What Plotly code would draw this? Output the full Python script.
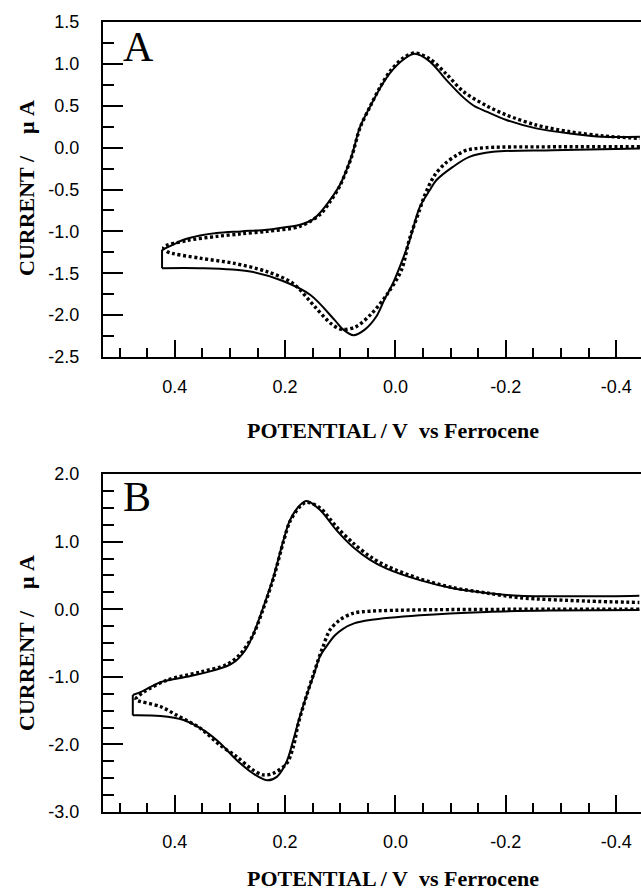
import plotly.graph_objects as go

# ---------------- data ----------------
# Panel A : simulated (solid) upper branch, left -> right
A_sim_up_v = [0.423, 0.400, 0.384, 0.354, 0.324, 0.280, 0.233, 0.200, 0.173, 0.150, 0.137, 0.119,
              0.101, 0.080, 0.064, 0.046, 0.028, 0.010, -0.014, -0.035, -0.062, -0.092, -0.123,
              -0.142, -0.165, -0.201, -0.255, -0.316, -0.376, -0.443]
A_sim_up_i = [-1.22, -1.15, -1.10, -1.05, -1.02, -1.00, -0.98, -0.95, -0.92, -0.86, -0.78, -0.63,
              -0.45, -0.11, 0.25, 0.49, 0.71, 0.89, 1.05, 1.12, 1.03, 0.81, 0.60,
              0.50, 0.43, 0.33, 0.23, 0.17, 0.13, 0.13]
# Panel A : simulated lower branch, right -> left
A_sim_lo_v = [-0.443, -0.285, -0.177, -0.134, -0.104, -0.074, -0.062, -0.044, -0.026, -0.008,
              0.006, 0.019, 0.035, 0.055, 0.076, 0.095, 0.110, 0.154, 0.205, 0.263, 0.354, 0.423]
A_sim_lo_i = [-0.01, -0.03, -0.05, -0.11, -0.23, -0.39, -0.51, -0.71, -1.10, -1.42,
              -1.64, -1.80, -2.02, -2.17, -2.24, -2.17, -2.06, -1.76, -1.59, -1.48, -1.44, -1.44]
# Panel A : experimental (dots) lower branch right -> left, then upper branch left -> right
A_exp_lo_v = [-0.443, -0.300, -0.165, -0.129, -0.111, -0.090, -0.071, -0.053, -0.044, -0.025,
              -0.011, 0.014, 0.043, 0.072, 0.098, 0.117, 0.146, 0.186, 0.233, 0.294, 0.354, 0.414]
A_exp_lo_i = [0.01, 0.01, 0.00, -0.03, -0.09, -0.19, -0.33, -0.57, -0.74, -1.10,
              -1.46, -1.74, -1.98, -2.14, -2.17, -2.10, -1.90, -1.62, -1.48, -1.38, -1.32, -1.24]
A_exp_up_v = [0.420, 0.378, 0.324, 0.280, 0.233, 0.173, 0.137, 0.119, 0.101, 0.080, 0.064, 0.046,
              0.028, 0.010, -0.014, -0.035, -0.062, -0.092, -0.123, -0.165, -0.201, -0.255,
              -0.316, -0.376, -0.443]
A_exp_up_i = [-1.19, -1.11, -1.06, -1.03, -1.00, -0.94, -0.80, -0.65, -0.46, -0.12, 0.24, 0.49,
              0.72, 0.91, 1.07, 1.13, 1.06, 0.88, 0.67, 0.50, 0.39, 0.27,
              0.19, 0.14, 0.11]

# Panel B : simulated upper branch, left -> right
B_sim_up_v = [0.476, 0.460, 0.426, 0.378, 0.336, 0.305, 0.290, 0.278, 0.268, 0.258, 0.239, 0.221,
              0.203, 0.191, 0.173, 0.161, 0.137, 0.107, 0.077, 0.046, 0.016, -0.044, -0.104,
              -0.165, -0.225, -0.346, -0.442]
B_sim_up_i = [-1.27, -1.22, -1.08, -1.00, -0.92, -0.84, -0.77, -0.67, -0.55, -0.38, 0.04, 0.48,
              1.02, 1.32, 1.54, 1.60, 1.47, 1.17, 0.92, 0.73, 0.60, 0.43, 0.31,
              0.24, 0.20, 0.19, 0.20]
# Panel B : simulated lower branch, right -> left
B_sim_lo_v = [-0.442, -0.285, -0.165, -0.044, 0.046, 0.075, 0.095, 0.110, 0.125, 0.137, 0.148,
              0.160, 0.173, 0.185, 0.197, 0.215, 0.233, 0.258, 0.288, 0.318, 0.348, 0.384, 0.426,
              0.476]
B_sim_lo_i = [-0.01, -0.02, -0.04, -0.09, -0.16, -0.21, -0.29, -0.39, -0.55, -0.70, -0.97,
              -1.25, -1.58, -1.93, -2.25, -2.48, -2.53, -2.43, -2.23, -1.98, -1.79, -1.64, -1.58,
              -1.57]
# Panel B : experimental lower branch right -> left, then upper left -> right
B_exp_lo_v = [-0.442, -0.285, -0.044, 0.046, 0.077, 0.101, 0.119, 0.131, 0.137, 0.148, 0.160,
              0.176, 0.185, 0.197, 0.222, 0.240, 0.258, 0.288, 0.318, 0.354, 0.396, 0.426, 0.470]
B_exp_lo_i = [0.00, 0.00, -0.01, -0.03, -0.06, -0.16, -0.31, -0.55, -0.68, -0.95, -1.25,
              -1.69, -2.03, -2.28, -2.43, -2.45, -2.38, -2.18, -2.01, -1.76, -1.57, -1.44, -1.34]
B_exp_up_v = [0.470, 0.455, 0.414, 0.354, 0.306, 0.282, 0.258, 0.239, 0.221, 0.203, 0.191, 0.173,
              0.161, 0.137, 0.107, 0.077, 0.046, 0.016, -0.044, -0.104, -0.165, -0.225, -0.346,
              -0.442]
B_exp_up_i = [-1.32, -1.22, -1.05, -0.93, -0.82, -0.67, -0.38, 0.02, 0.46, 1.00, 1.30, 1.52,
              1.58, 1.50, 1.22, 0.98, 0.78, 0.64, 0.45, 0.32, 0.24, 0.17, 0.12,
              0.10]

# ticks
X_TICKS = [0.4, 0.2, 0.0, -0.2, -0.4]
X_TICK_TEXT = ["0.4", "0.2", "0.0", "-0.2", "-0.4"]
X_MINOR = [0.50, 0.45, 0.35, 0.30, 0.25, 0.15, 0.10, 0.05, -0.05, -0.10, -0.15,
           -0.25, -0.30, -0.35]
A_Y_TICKS = [1.5, 1.0, 0.5, 0.0, -0.5, -1.0, -1.5, -2.0, -2.5]
A_Y_TICK_TEXT = ["1.5", "1.0", "0.5", "0.0", "-0.5", "-1.0", "-1.5", "-2.0", "-2.5"]
A_Y_MINOR = [1.25, 0.75, 0.25, -0.25, -0.75, -1.25, -1.75, -2.25]
B_Y_TICKS = [2.0, 1.0, 0.0, -1.0, -2.0, -3.0]
B_Y_TICK_TEXT = ["2.0", "1.0", "0.0", "-1.0", "-2.0", "-3.0"]
B_Y_MINOR = [1.75, 1.5, 1.25, 0.75, 0.5, 0.25, -0.25, -0.5, -0.75, -1.25, -1.5, -1.75,
             -2.25, -2.5, -2.75]

X_TITLE = "<b>POTENTIAL / V\u00a0\u00a0vs Ferrocene</b>"
Y_TITLE = "<b>CURRENT /\u00a0\u00a0\u00a0\u00a0μ A</b>"

# ---------------- layout geometry ----------------
W, H = 641, 890
ML, MR, MT, MB = 103, 0, 22, 78
PW = W - ML - MR
PH = H - MT - MB


def px_x(px):
    return (px - ML) / PW


def px_y(py):
    return (H - MB - py) / PH


TOP_DOM = [px_y(357), 1.0]
BOT_DOM = [0.0, px_y(474)]

fig = go.Figure()

SOLID = dict(color="black", width=2, shape="spline", smoothing=0.9)
DOTS = dict(color="black", width=3.4, dash="3px,2.6px", shape="spline", smoothing=0.9)


def add_panel(xa, ya, su_v, su_i, sl_v, sl_i, el_v, el_i, eu_v, eu_i):
    fig.add_trace(go.Scatter(x=sl_v, y=sl_i, xaxis=xa, yaxis=ya, mode="lines",
                             line=SOLID, showlegend=False))
    fig.add_trace(go.Scatter(x=[sl_v[-1], su_v[0]], y=[sl_i[-1], su_i[0]], xaxis=xa, yaxis=ya,
                             mode="lines", line=dict(color="black", width=2), showlegend=False))
    fig.add_trace(go.Scatter(x=su_v, y=su_i, xaxis=xa, yaxis=ya, mode="lines",
                             line=SOLID, showlegend=False))
    fig.add_trace(go.Scatter(x=el_v + eu_v, y=el_i + eu_i, xaxis=xa, yaxis=ya, mode="lines",
                             line=DOTS, showlegend=False))


add_panel("x", "y", A_sim_up_v, A_sim_up_i, A_sim_lo_v, A_sim_lo_i,
          A_exp_lo_v, A_exp_lo_i, A_exp_up_v, A_exp_up_i)
add_panel("x2", "y2", B_sim_up_v, B_sim_up_i, B_sim_lo_v, B_sim_lo_i,
          B_exp_lo_v, B_exp_lo_i, B_exp_up_v, B_exp_up_i)

TICKFONT = dict(family="Liberation Sans, Arial, sans-serif", size=18, color="black")


def xaxis_cfg(anchor):
    return dict(anchor=anchor, domain=[0, 1], range=[0.53, -0.445],
                tickmode="array", tickvals=X_TICKS, ticktext=X_TICK_TEXT,
                ticks="inside", ticklen=17, tickwidth=2, tickcolor="black",
                minor=dict(tickmode="array", tickvals=X_MINOR, ticks="inside", ticklen=9,
                           tickwidth=2, tickcolor="black"),
                showline=True, linewidth=2, linecolor="black", mirror=True,
                showgrid=False, zeroline=False, tickfont=TICKFONT, ticklabelstandoff=12)


def yaxis_cfg(anchor, dom, rng, tv, tt, mv):
    return dict(anchor=anchor, domain=dom, range=rng,
                tickmode="array", tickvals=tv, ticktext=tt,
                ticks="inside", ticklen=20, tickwidth=2, tickcolor="black",
                minor=dict(tickmode="array", tickvals=mv, ticks="inside", ticklen=11,
                           tickwidth=2, tickcolor="black"),
                showline=True, linewidth=2, linecolor="black", mirror=False,
                showgrid=False, zeroline=False, tickfont=TICKFONT, ticklabelstandoff=18)


TITLEFONT = dict(family="Liberation Serif, Times New Roman, serif", size=22, color="black")
LETTERFONT = dict(family="Liberation Serif, Times New Roman, serif", size=42, color="black")

annotations = [
    dict(text="A", x=px_x(121), y=px_y(22), xref="paper", yref="paper",
         xanchor="left", yanchor="top", showarrow=False, font=LETTERFONT),
    dict(text="B", x=px_x(121), y=px_y(472), xref="paper", yref="paper",
         xanchor="left", yanchor="top", showarrow=False, font=LETTERFONT),
    dict(text=X_TITLE, x=px_x(393), y=px_y(430), xref="paper", yref="paper",
         xanchor="center", yanchor="middle", showarrow=False, font=TITLEFONT),
    dict(text=X_TITLE, x=px_x(393), y=px_y(878), xref="paper", yref="paper",
         xanchor="center", yanchor="middle", showarrow=False, font=TITLEFONT),
    dict(text=Y_TITLE, x=px_x(26), y=px_y(188), xref="paper", yref="paper", textangle=-90,
         xanchor="center", yanchor="middle", showarrow=False, font=TITLEFONT),
    dict(text=Y_TITLE, x=px_x(26), y=px_y(643), xref="paper", yref="paper", textangle=-90,
         xanchor="center", yanchor="middle", showarrow=False, font=TITLEFONT),
]

fig.update_layout(
    width=W, height=H,
    margin=dict(l=ML, r=MR, t=MT, b=MB, pad=0),
    paper_bgcolor="white", plot_bgcolor="white",
    showlegend=False,
    xaxis=xaxis_cfg("y"),
    yaxis=yaxis_cfg("x", TOP_DOM, [-2.5, 1.5], A_Y_TICKS, A_Y_TICK_TEXT, A_Y_MINOR),
    xaxis2=xaxis_cfg("y2"),
    yaxis2=yaxis_cfg("x2", BOT_DOM, [-3.0, 2.0], B_Y_TICKS, B_Y_TICK_TEXT, B_Y_MINOR),
    annotations=annotations,
)

fig.write_html(
    "out.html",
    config={"displayModeBar": False},
    post_script="document.body.style.margin='0';document.body.style.overflow='hidden';",
)
